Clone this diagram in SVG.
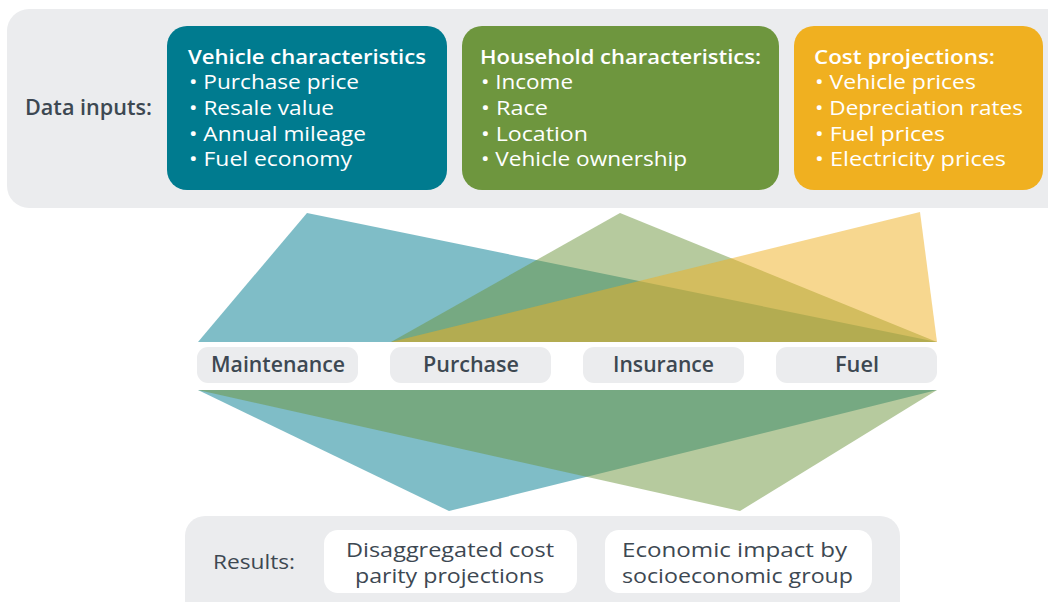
<svg xmlns="http://www.w3.org/2000/svg" width="1048" height="602" viewBox="0 0 1048 602">
<style>
.panel{fill:#ebecee}
.t{font-family:"Open Sans","Liberation Sans",sans-serif;font-size:20px}
.h{font-size:20.5px}
.p{font-size:21.5px}
.w{fill:#ffffff}
.d{fill:#3d4852}
.b{font-weight:600}
.m{font-weight:500}
.pill{fill:#ebecee}
</style>
<rect width="1048" height="602" fill="#ffffff"/>
<g id="inputs-panel">
<rect class="panel" x="7" y="9" width="1070" height="199" rx="22"/>
<text class="t p d b" x="25" y="115" textLength="127" lengthAdjust="spacingAndGlyphs">Data inputs:</text>
</g>
<g id="connectors">
<polygon points="307,213 198,342 937,342" fill="#007b8f" fill-opacity="0.5"/>
<polygon points="620,213 391,342 937,342" fill="#6e963e" fill-opacity="0.5"/>
<polygon points="920,212 391,342 937,342" fill="#f0b020" fill-opacity="0.5"/>
<polygon points="198,390 937,390 449,511" fill="#007b8f" fill-opacity="0.5"/>
<polygon points="198,390 937,390 740,511" fill="#6e963e" fill-opacity="0.5"/>
</g>
<g id="vehicle">
<rect x="167" y="26" width="280" height="164" rx="20" fill="#007b8f"/>
<text class="t h w b" x="188" y="64" textLength="238" lengthAdjust="spacingAndGlyphs">Vehicle characteristics</text>
<text class="t w" x="189" y="89" textLength="170" lengthAdjust="spacingAndGlyphs">• Purchase price</text>
<text class="t w" x="189" y="115" textLength="145" lengthAdjust="spacingAndGlyphs">• Resale value</text>
<text class="t w" x="189" y="141" textLength="177" lengthAdjust="spacingAndGlyphs">• Annual mileage</text>
<text class="t w" x="189" y="166" textLength="163" lengthAdjust="spacingAndGlyphs">• Fuel economy</text>
</g>
<g id="household">
<rect x="462" y="26" width="317" height="164" rx="20" fill="#6e963e"/>
<text class="t h w b" x="480" y="64" textLength="281" lengthAdjust="spacingAndGlyphs">Household characteristics:</text>
<text class="t w" x="481" y="89" textLength="92" lengthAdjust="spacingAndGlyphs">• Income</text>
<text class="t w" x="481" y="115" textLength="67" lengthAdjust="spacingAndGlyphs">• Race</text>
<text class="t w" x="481" y="141" textLength="107" lengthAdjust="spacingAndGlyphs">• Location</text>
<text class="t w" x="481" y="166" textLength="206" lengthAdjust="spacingAndGlyphs">• Vehicle ownership</text>
</g>
<g id="cost">
<rect x="794" y="26" width="249" height="164" rx="20" fill="#f0b020"/>
<text class="t h w b" x="814" y="64" textLength="181" lengthAdjust="spacingAndGlyphs">Cost projections:</text>
<text class="t w" x="815" y="89" textLength="161" lengthAdjust="spacingAndGlyphs">• Vehicle prices</text>
<text class="t w" x="815" y="115" textLength="208" lengthAdjust="spacingAndGlyphs">• Depreciation rates</text>
<text class="t w" x="815" y="141" textLength="130" lengthAdjust="spacingAndGlyphs">• Fuel prices</text>
<text class="t w" x="815" y="166" textLength="191" lengthAdjust="spacingAndGlyphs">• Electricity prices</text>
</g>
<g id="maintenance">
<rect class="pill" x="197" y="347" width="161" height="36" rx="11"/>
<text class="t p d b" x="211" y="372" textLength="134" lengthAdjust="spacingAndGlyphs">Maintenance</text>
</g>
<g id="purchase">
<rect class="pill" x="390" y="347" width="161" height="36" rx="11"/>
<text class="t p d b" x="423" y="372" textLength="96" lengthAdjust="spacingAndGlyphs">Purchase</text>
</g>
<g id="insurance">
<rect class="pill" x="583" y="347" width="161" height="36" rx="11"/>
<text class="t p d b" x="613" y="372" textLength="101" lengthAdjust="spacingAndGlyphs">Insurance</text>
</g>
<g id="fuel">
<rect class="pill" x="776" y="347" width="161" height="36" rx="11"/>
<text class="t p d b" x="835" y="372" textLength="44" lengthAdjust="spacingAndGlyphs">Fuel</text>
</g>
<g id="results-panel">
<rect class="panel" x="185" y="516" width="715" height="110" rx="20"/>
<text class="t m d" x="213" y="569" textLength="82" lengthAdjust="spacingAndGlyphs">Results:</text>
</g>
<g id="disaggregated">
<rect x="324" y="530" width="253" height="63" rx="14" fill="#ffffff"/>
<text class="t m d" x="346" y="557" textLength="208" lengthAdjust="spacingAndGlyphs">Disaggregated cost</text>
<text class="t m d" x="355" y="583" textLength="189" lengthAdjust="spacingAndGlyphs">parity projections</text>
</g>
<g id="economic">
<rect x="605" y="530" width="267" height="63" rx="14" fill="#ffffff"/>
<text class="t m d" x="622" y="557" textLength="225" lengthAdjust="spacingAndGlyphs">Economic impact by</text>
<text class="t m d" x="622" y="583" textLength="231" lengthAdjust="spacingAndGlyphs">socioeconomic group</text>
</g>
</svg>
